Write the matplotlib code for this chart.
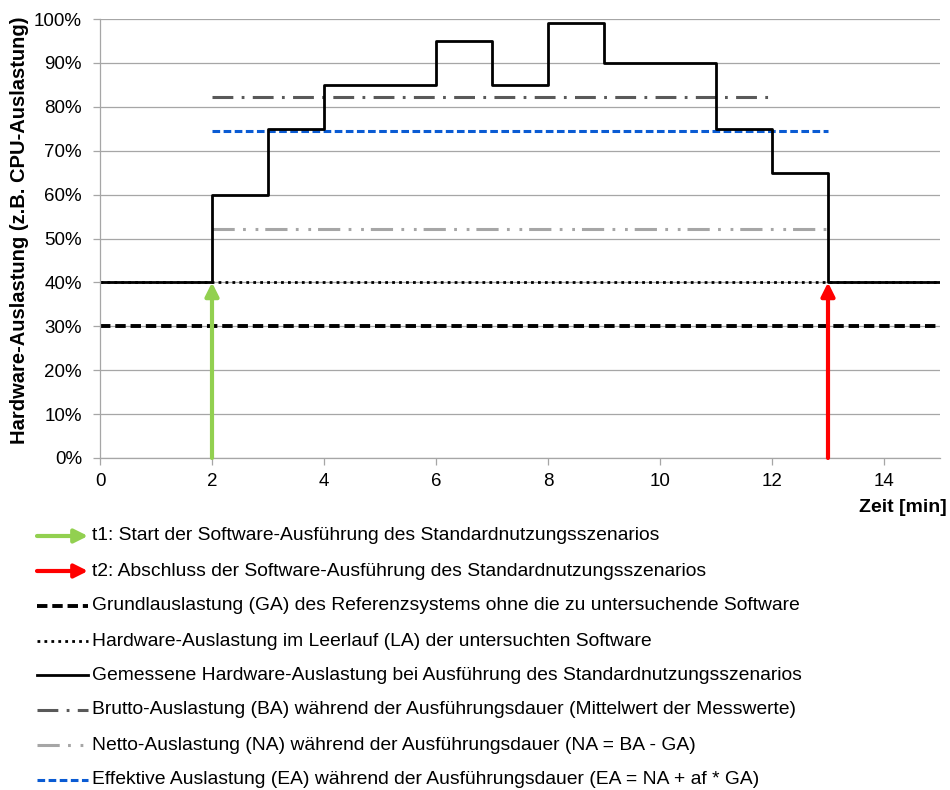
import matplotlib.pyplot as plt
from matplotlib.lines import Line2D
from matplotlib.patches import FancyArrowPatch
from matplotlib.ticker import FuncFormatter

plt.rcParams['font.family'] = ['Liberation Sans', 'DejaVu Sans']
plt.rcParams['lines.scale_dashes'] = False

# measured utilisation (step values, each valid until the next time stamp)
step_t = [0, 2, 3, 4, 6, 7, 8, 9, 11, 12, 13, 15]
step_u = [40, 60, 75, 85, 95, 85, 99, 90, 75, 65, 40, 40]

t1, t2 = 2, 13
ga = 30      # Grundauslastung
la = 40      # Leerlauf
ba = 82.2    # Brutto
na = 52.2    # Netto
ea = 74.6    # Effektiv
ba_end = 12

labels = [
    "t1: Start der Software-Ausführung des Standardnutzungsszenarios",
    "t2: Abschluss der Software-Ausführung des Standardnutzungsszenarios",
    "Grundlauslastung (GA) des Referenzsystems ohne die zu untersuchende Software",
    "Hardware-Auslastung im Leerlauf (LA) der untersuchten Software",
    "Gemessene Hardware-Auslastung bei Ausführung des Standardnutzungsszenarios",
    "Brutto-Auslastung (BA) während der Ausführungsdauer (Mittelwert der Messwerte)",
    "Netto-Auslastung (NA) während der Ausführungsdauer (NA = BA - GA)",
    "Effektive Auslastung (EA) während der Ausführungsdauer (EA = NA + af * GA)",
]

green = '#92D050'
red = '#FF0000'
blue = '#0A5BD3'
gridc = '#A6A6A6'

st_ga = dict(color='black', lw=2.8, ls=(0, (7.5, 3.5)))
st_la = dict(color='black', lw=2.0, ls=(0, (2, 3)))
st_meas = dict(color='black', lw=2.0)
st_ba = dict(color='#595959', lw=2.2, ls=(0, (15, 6, 2, 6)))
st_na = dict(color='#A6A6A6', lw=2.2, ls=(0, (16, 6, 2, 7, 2, 5)))
st_ea = dict(color=blue, lw=2.2, ls=(0, (5.5, 2.5)))

W, H = 950, 790
fig = plt.figure(figsize=(9.5, 7.9), dpi=100)
ax = fig.add_axes([100 / W, 1 - 458 / H, 840 / W, 439 / H])

ax.set_xlim(0, 15)
ax.set_ylim(0, 100)
ax.set_xticks(range(0, 15, 2))
ax.set_yticks(range(0, 101, 10))
ax.yaxis.set_major_formatter(FuncFormatter(lambda v, p: f"{int(v)}%"))
ax.grid(axis='y', color=gridc, lw=0.9)
ax.set_axisbelow(True)
for s in ['top', 'right']:
    ax.spines[s].set_visible(False)
for s in ['left', 'bottom']:
    ax.spines[s].set_color(gridc)
    ax.spines[s].set_linewidth(0.9)
ax.tick_params(colors=gridc, labelcolor='black', labelsize=13.5, length=5, width=0.9)
ax.tick_params(axis='x', pad=6)
ax.tick_params(axis='y', pad=8)

fig.text(20 / W, 1 - 230 / H, "Hardware-Auslastung (z.B. CPU-Auslastung)",
         fontsize=14.5, fontweight='bold', rotation=90, ha='center', va='center')
fig.text(947 / W, 1 - 508 / H, "Zeit [min]", fontsize=14, fontweight='bold',
         ha='right', va='center')

ax.plot([0, 15], [ga, ga], **st_ga)
ax.plot([0, 15], [la, la], **st_la)
ax.plot([t1, ba_end], [ba, ba], **st_ba)
ax.plot([t1, t2], [na, na], **st_na)
ax.plot([t1, t2], [ea, ea], **st_ea)
ax.step(step_t, step_u, where='post', **st_meas)

for t, c in [(t1, green), (t2, red)]:
    ax.annotate('', xy=(t, la), xytext=(t, 0),
                arrowprops=dict(arrowstyle='-|>', color=c, lw=3,
                                mutation_scale=20, shrinkA=0, shrinkB=0))

# legend drawn below the axes
rows = [536, 571, 606, 641, 675, 710, 745, 780]
x0, x1, xt = 37, 88, 92
styles = [None, None, st_ga, st_la, st_meas, st_ba, st_na, st_ea]
for i, (lab, yy) in enumerate(zip(labels, rows)):
    yf = H - yy
    if i < 2:
        c = green if i == 0 else red
        fig.add_artist(FancyArrowPatch(
            (x0, yf), (x1, yf), transform=None, arrowstyle='-|>', color=c,
            lw=3, mutation_scale=20, shrinkA=0, shrinkB=0))
    else:
        fig.add_artist(Line2D([x0 / W, x1 / W], [yf / H, yf / H],
                              transform=fig.transFigure, **styles[i]))
    fig.text(xt / W, yf / H, lab, fontsize=13.9, ha='left', va='center')

fig.savefig("out.png", dpi=100)
